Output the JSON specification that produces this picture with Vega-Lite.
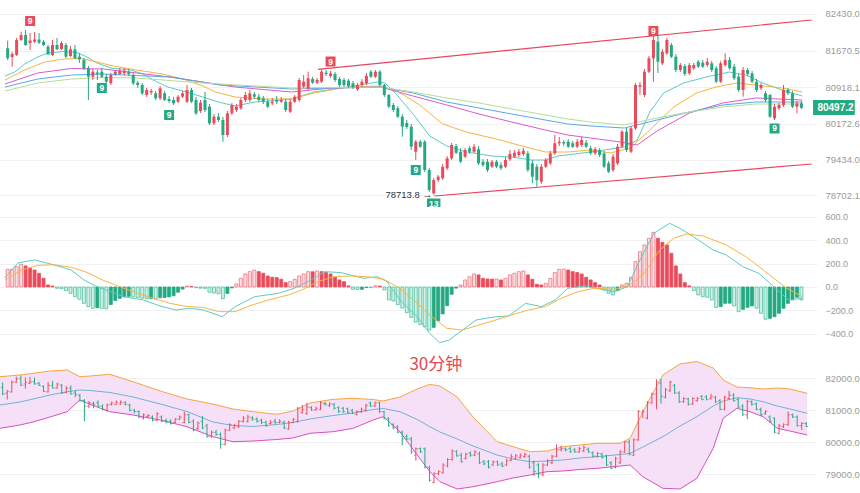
{
"$schema":"https://vega.github.io/schema/vega-lite/v6.json",
"padding":0,
"background":"white",
"config":{"view":{"stroke":null},"axis":{"domain":false,"ticks":false,"labelColor":"#9a9a9a","labelFontSize":9.5,"labelFont":"Liberation Sans","labelPadding":8,"labelOverlap":false,"labelSeparation":0,"gridColor":"#f1f1f1","gridWidth":1}},
"resolve":{"scale":{"color":"independent","fill":"independent","stroke":"independent","shape":"independent"}},
"datasets":{
"k":[
{"i":0,"o":81718,"h":81874,"l":81478,"c":81513},{"i":1,"o":81540,"h":81642,"l":81341,"c":81601},{"i":2,"o":81580,"h":81929,"l":81560,"c":81888},{"i":3,"o":81888,"h":82058,"l":81868,"c":81990},{"i":4,"o":81990,"h":82093,"l":81765,"c":81785},{"i":5,"o":81827,"h":82032,"l":81683,"c":81878},{"i":6,"o":81853,"h":82052,"l":81827,"c":81898},{"i":7,"o":81898,"h":82032,"l":81806,"c":81833},{"i":8,"o":81853,"h":81888,"l":81765,"c":81785},{"i":9,"o":81751,"h":81785,"l":81580,"c":81595},
{"i":10,"o":81580,"h":81888,"l":81560,"c":81785},{"i":11,"o":81785,"h":81929,"l":81683,"c":81697},{"i":12,"o":81704,"h":81868,"l":81683,"c":81827},{"i":13,"o":81785,"h":81827,"l":81519,"c":81546},{"i":14,"o":81560,"h":81765,"l":81540,"c":81697},{"i":15,"o":81697,"h":81785,"l":81498,"c":81513},{"i":16,"o":81546,"h":81622,"l":81416,"c":81492},{"i":17,"o":81478,"h":81519,"l":81273,"c":81308},{"i":18,"o":81308,"h":81355,"l":80658,"c":81136},{"i":19,"o":81136,"h":81294,"l":81068,"c":81238},
{"i":20,"o":81222,"h":81273,"l":81068,"c":81191},{"i":21,"o":81238,"h":81314,"l":81109,"c":81136},{"i":22,"o":81136,"h":81191,"l":81007,"c":81033},{"i":23,"o":81000,"h":81212,"l":80965,"c":81170},{"i":24,"o":81191,"h":81273,"l":81150,"c":81238},{"i":25,"o":81191,"h":81314,"l":81170,"c":81259},{"i":26,"o":81205,"h":81314,"l":81170,"c":81259},{"i":27,"o":81238,"h":81294,"l":81150,"c":81191},{"i":28,"o":81170,"h":81212,"l":80965,"c":81000},{"i":29,"o":81013,"h":81048,"l":80904,"c":80965},
{"i":30,"o":80965,"h":81007,"l":80760,"c":80795},{"i":31,"o":80760,"h":80904,"l":80720,"c":80863},{"i":32,"o":80812,"h":80884,"l":80760,"c":80843},{"i":33,"o":80795,"h":80843,"l":80658,"c":80693},{"i":34,"o":80693,"h":80945,"l":80658,"c":80898},{"i":35,"o":80795,"h":80843,"l":80638,"c":80658},{"i":36,"o":80679,"h":80740,"l":80597,"c":80638},{"i":37,"o":80658,"h":80720,"l":80555,"c":80590},{"i":38,"o":80623,"h":80760,"l":80597,"c":80726},{"i":39,"o":80726,"h":80843,"l":80699,"c":80795},
{"i":40,"o":80623,"h":80965,"l":80597,"c":80863},{"i":41,"o":80863,"h":80904,"l":80597,"c":80623},{"i":42,"o":80658,"h":80720,"l":80350,"c":80385},{"i":43,"o":80432,"h":80658,"l":80392,"c":80603},{"i":44,"o":80658,"h":80822,"l":80412,"c":80453},{"i":45,"o":80521,"h":80576,"l":80145,"c":80180},{"i":46,"o":80180,"h":80371,"l":80145,"c":80316},{"i":47,"o":80316,"h":80392,"l":80207,"c":80248},{"i":48,"o":80248,"h":80310,"l":79803,"c":79940},{"i":49,"o":79940,"h":80432,"l":79900,"c":80385},
{"i":50,"o":80385,"h":80597,"l":80350,"c":80555},{"i":51,"o":80453,"h":80576,"l":80412,"c":80521},{"i":52,"o":80488,"h":80699,"l":80453,"c":80658},{"i":53,"o":80658,"h":80822,"l":80617,"c":80760},{"i":54,"o":80658,"h":80863,"l":80617,"c":80795},{"i":55,"o":80775,"h":80822,"l":80679,"c":80726},{"i":56,"o":80726,"h":80781,"l":80617,"c":80658},{"i":57,"o":80693,"h":80740,"l":80576,"c":80623},{"i":58,"o":80623,"h":80679,"l":80494,"c":80521},{"i":59,"o":80590,"h":80699,"l":80555,"c":80623},
{"i":60,"o":80658,"h":80740,"l":80576,"c":80623},{"i":61,"o":80623,"h":80720,"l":80597,"c":80658},{"i":62,"o":80623,"h":80679,"l":80412,"c":80453},{"i":63,"o":80418,"h":80679,"l":80392,"c":80623},{"i":64,"o":80623,"h":80760,"l":80597,"c":80726},{"i":65,"o":80658,"h":81109,"l":80617,"c":81068},{"i":66,"o":80931,"h":81170,"l":80904,"c":81033},{"i":67,"o":80898,"h":81238,"l":80863,"c":81103},{"i":68,"o":81088,"h":81130,"l":80986,"c":81013},{"i":69,"o":81013,"h":81109,"l":80986,"c":81068},
{"i":70,"o":81033,"h":81287,"l":81007,"c":81238},{"i":71,"o":81218,"h":81273,"l":81150,"c":81191},{"i":72,"o":81150,"h":81253,"l":81109,"c":81205},{"i":73,"o":81191,"h":81232,"l":81027,"c":81068},{"i":74,"o":81088,"h":81130,"l":80924,"c":80965},{"i":75,"o":81068,"h":81109,"l":80924,"c":80965},{"i":76,"o":81054,"h":81088,"l":80904,"c":80945},{"i":77,"o":81000,"h":81048,"l":80884,"c":80918},{"i":78,"o":80877,"h":81007,"l":80843,"c":80965},{"i":79,"o":80965,"h":81088,"l":80924,"c":81033},
{"i":80,"o":81000,"h":81212,"l":80965,"c":81150},{"i":81,"o":81238,"h":81273,"l":81109,"c":81136},{"i":82,"o":81136,"h":81273,"l":81109,"c":81238},{"i":83,"o":81238,"h":81273,"l":80924,"c":80965},{"i":84,"o":80965,"h":80986,"l":80720,"c":80760},{"i":85,"o":80760,"h":80781,"l":80494,"c":80521},{"i":86,"o":80555,"h":80597,"l":80412,"c":80453},{"i":87,"o":80488,"h":80535,"l":80289,"c":80316},{"i":88,"o":80316,"h":80371,"l":79906,"c":80111},{"i":89,"o":80187,"h":80248,"l":80064,"c":80104},
{"i":90,"o":80111,"h":80166,"l":79633,"c":79701},{"i":91,"o":79598,"h":79838,"l":79428,"c":79803},{"i":92,"o":79803,"h":79838,"l":79674,"c":79701},{"i":93,"o":79803,"h":79838,"l":79182,"c":79223},{"i":94,"o":79223,"h":79264,"l":78772,"c":78813},{"i":95,"o":78745,"h":79059,"l":78713.8,"c":79018},{"i":96,"o":79018,"h":79120,"l":78977,"c":79086},{"i":97,"o":79053,"h":79346,"l":79018,"c":79291},{"i":98,"o":79258,"h":79510,"l":79223,"c":79463},{"i":99,"o":79463,"h":79777,"l":79428,"c":79735},
{"i":100,"o":79715,"h":79756,"l":79551,"c":79578},{"i":101,"o":79598,"h":79674,"l":79366,"c":79393},{"i":102,"o":79496,"h":79674,"l":79469,"c":79633},{"i":103,"o":79668,"h":79715,"l":79551,"c":79598},{"i":104,"o":79598,"h":79756,"l":79572,"c":79701},{"i":105,"o":79647,"h":79715,"l":79325,"c":79360},{"i":106,"o":79393,"h":79448,"l":79285,"c":79325},{"i":107,"o":79393,"h":79448,"l":79182,"c":79223},{"i":108,"o":79291,"h":79428,"l":79264,"c":79393},{"i":109,"o":79393,"h":79428,"l":79264,"c":79291},
{"i":110,"o":79325,"h":79387,"l":79223,"c":79258},{"i":111,"o":79291,"h":79490,"l":79264,"c":79428},{"i":112,"o":79442,"h":79633,"l":79408,"c":79551},{"i":113,"o":79496,"h":79633,"l":79469,"c":79578},{"i":114,"o":79530,"h":79654,"l":79490,"c":79598},{"i":115,"o":79551,"h":79674,"l":79510,"c":79619},{"i":116,"o":79565,"h":79613,"l":79182,"c":79223},{"i":117,"o":79360,"h":79428,"l":78950,"c":79086},{"i":118,"o":79291,"h":79346,"l":78881,"c":79018},{"i":119,"o":78983,"h":79346,"l":78936,"c":79291},
{"i":120,"o":79291,"h":79469,"l":79264,"c":79428},{"i":121,"o":79360,"h":79613,"l":79325,"c":79565},{"i":122,"o":79565,"h":79940,"l":79530,"c":79770},{"i":123,"o":79770,"h":79900,"l":79715,"c":79803},{"i":124,"o":79797,"h":79838,"l":79715,"c":79766},{"i":125,"o":79803,"h":79858,"l":79674,"c":79701},{"i":126,"o":79770,"h":79818,"l":79674,"c":79701},{"i":127,"o":79701,"h":79858,"l":79674,"c":79803},{"i":128,"o":79735,"h":79900,"l":79694,"c":79838},{"i":129,"o":79783,"h":79838,"l":79674,"c":79701},
{"i":130,"o":79668,"h":79715,"l":79530,"c":79565},{"i":131,"o":79565,"h":79694,"l":79530,"c":79654},{"i":132,"o":79633,"h":79674,"l":79490,"c":79530},{"i":133,"o":79565,"h":79613,"l":79264,"c":79291},{"i":134,"o":79360,"h":79408,"l":79162,"c":79188},{"i":135,"o":79223,"h":79551,"l":79182,"c":79496},{"i":136,"o":79360,"h":79756,"l":79325,"c":79701},{"i":137,"o":79701,"h":80043,"l":79674,"c":80008},{"i":138,"o":80008,"h":80084,"l":79592,"c":79633},{"i":139,"o":79598,"h":80125,"l":79572,"c":80078},
{"i":140,"o":80078,"h":81007,"l":80043,"c":80965},{"i":141,"o":80931,"h":81027,"l":80760,"c":80965},{"i":142,"o":80760,"h":81294,"l":80720,"c":81238},{"i":143,"o":81238,"h":81560,"l":81212,"c":81513},{"i":144,"o":81513,"h":81970,"l":81033,"c":81888},{"i":145,"o":81853,"h":81990,"l":81212,"c":81443},{"i":146,"o":81410,"h":81704,"l":81375,"c":81648},{"i":147,"o":81615,"h":81929,"l":81580,"c":81888},{"i":148,"o":81785,"h":81827,"l":81519,"c":81546},{"i":149,"o":81546,"h":81601,"l":81232,"c":81273},
{"i":150,"o":81273,"h":81416,"l":81232,"c":81375},{"i":151,"o":81355,"h":81396,"l":81150,"c":81191},{"i":152,"o":81205,"h":81416,"l":81170,"c":81375},{"i":153,"o":81308,"h":81416,"l":81273,"c":81375},{"i":154,"o":81443,"h":81478,"l":81314,"c":81341},{"i":155,"o":81423,"h":81478,"l":81314,"c":81341},{"i":156,"o":81375,"h":81519,"l":81335,"c":81443},{"i":157,"o":81410,"h":81458,"l":81232,"c":81273},{"i":158,"o":81308,"h":81355,"l":81007,"c":81033},{"i":159,"o":81033,"h":81458,"l":81007,"c":81410},
{"i":160,"o":81375,"h":81615,"l":81335,"c":81478},{"i":161,"o":81478,"h":81540,"l":81273,"c":81308},{"i":162,"o":81341,"h":81396,"l":81068,"c":81103},{"i":163,"o":81136,"h":81191,"l":80822,"c":80863},{"i":164,"o":80863,"h":81335,"l":80726,"c":81273},{"i":165,"o":81273,"h":81314,"l":81150,"c":81191},{"i":166,"o":81205,"h":81253,"l":81007,"c":81033},{"i":167,"o":81033,"h":81088,"l":80822,"c":80863},{"i":168,"o":80898,"h":81007,"l":80863,"c":80965},{"i":169,"o":80795,"h":80843,"l":80617,"c":80658},
{"i":170,"o":80760,"h":80782,"l":80289,"c":80316},{"i":171,"o":80283,"h":80576,"l":80248,"c":80521},{"i":172,"o":80488,"h":80597,"l":80453,"c":80555},{"i":173,"o":80555,"h":80965,"l":80515,"c":80863},{"i":174,"o":80863,"h":80904,"l":80760,"c":80795},{"i":175,"o":80795,"h":80843,"l":80494,"c":80521},{"i":176,"o":80521,"h":80638,"l":80385,"c":80590},{"i":177,"o":80590,"h":80638,"l":80474,"c":80497.2}
],
"ma":[
{"s":"c","i":-0.6,"v":81150},{"s":"c","i":1.6,"v":81232},{"s":"c","i":3.8,"v":81396},{"s":"c","i":6.7,"v":81540},{"s":"c","i":8.9,"v":81622},{"s":"c","i":12.6,"v":81652},{"s":"c","i":15.5,"v":81632},{"s":"c","i":17.7,"v":81540},{"s":"c","i":19.9,"v":81417},{"s":"c","i":23,"v":81314},{"s":"c","i":27.4,"v":81273},{"s":"c","i":30.2,"v":81191},{"s":"c","i":32.4,"v":81068},{"s":"c","i":35.7,"v":80924},{"s":"c","i":39.1,"v":80842},{"s":"c","i":43.5,"v":80720},{"s":"c","i":47,"v":80617},{"s":"c","i":50.7,"v":80535},{"s":"c","i":55.1,"v":80617},{"s":"c","i":58.2,"v":80638},{"s":"c","i":63.3,"v":80679},{"s":"c","i":68.3,"v":80822},{"s":"c","i":75.8,"v":80924},{"s":"c","i":82.4,"v":81027},{"s":"c","i":84.2,"v":81006},{"s":"c","i":86.8,"v":80760},{"s":"c","i":90.4,"v":80371},{"s":"c","i":94.1,"v":79920},{"s":"c","i":97.9,"v":79715},{"s":"c","i":102.3,"v":79592},{"s":"c","i":108,"v":79510},{"s":"c","i":112.4,"v":79490},{"s":"c","i":116.8,"v":79428},{"s":"c","i":119.9,"v":79428},{"s":"c","i":122.7,"v":79510},{"s":"c","i":130,"v":79592},{"s":"c","i":137.5,"v":79694},{"s":"c","i":140.4,"v":79838},{"s":"c","i":143.2,"v":80412},{"s":"c","i":146.3,"v":80802},{"s":"c","i":150.7,"v":81006},{"s":"c","i":155.8,"v":81130},{"s":"c","i":160.9,"v":81232},{"s":"c","i":164.6,"v":81170},{"s":"c","i":168.4,"v":81006},{"s":"c","i":172.7,"v":80863},{"s":"c","i":177.2,"v":80740},
{"s":"o","i":-0.6,"v":81068},{"s":"o","i":3.8,"v":81273},{"s":"o","i":8.2,"v":81437},{"s":"o","i":12.6,"v":81499},{"s":"o","i":16.4,"v":81509},{"s":"o","i":19.9,"v":81437},{"s":"o","i":23.6,"v":81355},{"s":"o","i":28.7,"v":81273},{"s":"o","i":34.6,"v":81191},{"s":"o","i":39.1,"v":81088},{"s":"o","i":43.5,"v":80945},{"s":"o","i":46.3,"v":80822},{"s":"o","i":50.7,"v":80720},{"s":"o","i":56.7,"v":80679},{"s":"o","i":63.3,"v":80679},{"s":"o","i":68.3,"v":80802},{"s":"o","i":75.8,"v":80924},{"s":"o","i":83.1,"v":80945},{"s":"o","i":86.8,"v":80842},{"s":"o","i":91.9,"v":80556},{"s":"o","i":97,"v":80166},{"s":"o","i":102.3,"v":80002},{"s":"o","i":108.9,"v":79859},{"s":"o","i":115.5,"v":79695},{"s":"o","i":119.9,"v":79592},{"s":"o","i":124.9,"v":79592},{"s":"o","i":130,"v":79633},{"s":"o","i":134.4,"v":79572},{"s":"o","i":138.8,"v":79674},{"s":"o","i":143.2,"v":80043},{"s":"o","i":148.5,"v":80514},{"s":"o","i":153.6,"v":80802},{"s":"o","i":158,"v":80925},{"s":"o","i":162.4,"v":81006},{"s":"o","i":166.8,"v":80966},{"s":"o","i":172.7,"v":80904},{"s":"o","i":177.2,"v":80822},
{"s":"m","i":-0.6,"v":80986},{"s":"m","i":6.7,"v":81212},{"s":"m","i":14.2,"v":81304},{"s":"m","i":21.4,"v":81294},{"s":"m","i":28.7,"v":81212},{"s":"m","i":36.2,"v":81130},{"s":"m","i":43.5,"v":81027},{"s":"m","i":50.7,"v":80924},{"s":"m","i":63.3,"v":80822},{"s":"m","i":72.1,"v":80904},{"s":"m","i":83.1,"v":80924},{"s":"m","i":90.4,"v":80740},{"s":"m","i":97.9,"v":80556},{"s":"m","i":105.1,"v":80371},{"s":"m","i":112.4,"v":80207},{"s":"m","i":119.9,"v":80043},{"s":"m","i":124.9,"v":79940},{"s":"m","i":130,"v":79879},{"s":"m","i":136.6,"v":79797},{"s":"m","i":140.4,"v":79736},{"s":"m","i":144.8,"v":80022},{"s":"m","i":152,"v":80392},{"s":"m","i":159.5,"v":80597},{"s":"m","i":166.8,"v":80699},{"s":"m","i":177.2,"v":80658},
{"s":"b","i":-0.6,"v":80924},{"s":"b","i":6.7,"v":81088},{"s":"b","i":14.2,"v":81170},{"s":"b","i":21.4,"v":81191},{"s":"b","i":28.7,"v":81160},{"s":"b","i":36.2,"v":81130},{"s":"b","i":47.2,"v":80966},{"s":"b","i":63.3,"v":80884},{"s":"b","i":83.1,"v":80924},{"s":"b","i":90.4,"v":80802},{"s":"b","i":97.9,"v":80617},{"s":"b","i":105.1,"v":80494},{"s":"b","i":112.4,"v":80371},{"s":"b","i":124.9,"v":80166},{"s":"b","i":130,"v":80125},{"s":"b","i":137.5,"v":80084},{"s":"b","i":144.8,"v":80248},{"s":"b","i":152,"v":80412},{"s":"b","i":159.5,"v":80556},{"s":"b","i":166.8,"v":80617},{"s":"b","i":177.2,"v":80617},
{"s":"g","i":-0.6,"v":80842},{"s":"g","i":6.7,"v":81006},{"s":"g","i":14.2,"v":81088},{"s":"g","i":21.4,"v":81119},{"s":"g","i":28.7,"v":81109},{"s":"g","i":43.5,"v":81006},{"s":"g","i":63.3,"v":80904},{"s":"g","i":83.1,"v":80924},{"s":"g","i":90.4,"v":80822},{"s":"g","i":97.9,"v":80699},{"s":"g","i":105.1,"v":80597},{"s":"g","i":112.4,"v":80474},{"s":"g","i":124.9,"v":80269},{"s":"g","i":130,"v":80207},{"s":"g","i":137.5,"v":80146},{"s":"g","i":144.8,"v":80289},{"s":"g","i":152,"v":80412},{"s":"g","i":159.5,"v":80515},{"s":"g","i":166.8,"v":80576},{"s":"g","i":177.2,"v":80576}
],
"chan":[{"n":"u","i":69.2,"v":81287},{"n":"u","i":179.3,"v":82298},{"n":"d","i":95.2,"v":78690},{"n":"d","i":179.3,"v":79346}],
"tags":[{"i":5,"v":82277,"t":"9","side":"top"},{"i":72,"v":81447,"t":"9","side":"top"},{"i":144,"v":82072,"t":"9","side":"top"},{"i":21,"v":80904,"t":"9","side":"bot"},{"i":36,"v":80350,"t":"9","side":"bot"},{"i":91,"v":79223,"t":"9","side":"bot"},{"i":95,"v":78536,"t":"13","side":"bot"},{"i":171,"v":80074,"t":"9","side":"bot"}],
"lowlab":[{"i":94.6,"v":78713.8,"t":"78713.8 →"}],
"pt":[{"a":179.6,"b":188.9,"y1":80658,"y2":80350,"m":184.6,"v":80500,"t":"80497.2"}],
"macd":[
{"i":0,"v":151,"g":"pg"},{"i":1,"v":151,"g":"pg"},{"i":2,"v":174,"g":"pg"},{"i":3,"v":194,"g":"pg"},{"i":4,"v":180,"g":"ps"},{"i":5,"v":160,"g":"ps"},{"i":6,"v":145,"g":"ps"},{"i":7,"v":117,"g":"ps"},{"i":8,"v":74,"g":"ps"},{"i":9,"v":17,"g":"ps"},
{"i":10,"v":8,"g":"ps"},{"i":11,"v":-11,"g":"ng"},{"i":12,"v":-15,"g":"ng"},{"i":13,"v":-31,"g":"ng"},{"i":14,"v":-54,"g":"ng"},{"i":15,"v":-83,"g":"ng"},{"i":16,"v":-105,"g":"ng"},{"i":17,"v":-140,"g":"ng"},{"i":18,"v":-168,"g":"ng"},{"i":19,"v":-182,"g":"ng"},
{"i":20,"v":-178,"g":"ns"},{"i":21,"v":-183,"g":"ng"},{"i":22,"v":-186,"g":"ng"},{"i":23,"v":-150,"g":"ns"},{"i":24,"v":-115,"g":"ns"},{"i":25,"v":-97,"g":"ns"},{"i":26,"v":-85,"g":"ns"},{"i":27,"v":-80,"g":"ns"},{"i":28,"v":-85,"g":"ng"},{"i":29,"v":-90,"g":"ng"},
{"i":30,"v":-96,"g":"ng"},{"i":31,"v":-102,"g":"ng"},{"i":32,"v":-100,"g":"ns"},{"i":33,"v":-104,"g":"ng"},{"i":34,"v":-92,"g":"ns"},{"i":35,"v":-90,"g":"ns"},{"i":36,"v":-85,"g":"ns"},{"i":37,"v":-75,"g":"ns"},{"i":38,"v":-45,"g":"ns"},{"i":39,"v":-18,"g":"ns"},
{"i":40,"v":8,"g":"pg"},{"i":41,"v":5,"g":"ps"},{"i":42,"v":-6,"g":"ng"},{"i":43,"v":-10,"g":"ng"},{"i":44,"v":-12,"g":"ng"},{"i":45,"v":-45,"g":"ng"},{"i":46,"v":-52,"g":"ng"},{"i":47,"v":-58,"g":"ng"},{"i":48,"v":-100,"g":"ng"},{"i":49,"v":-55,"g":"ns"},
{"i":50,"v":-8,"g":"ns"},{"i":51,"v":26,"g":"pg"},{"i":52,"v":74,"g":"pg"},{"i":53,"v":111,"g":"pg"},{"i":54,"v":131,"g":"pg"},{"i":55,"v":145,"g":"pg"},{"i":56,"v":131,"g":"ps"},{"i":57,"v":117,"g":"ps"},{"i":58,"v":94,"g":"ps"},{"i":59,"v":83,"g":"ps"},
{"i":60,"v":80,"g":"ps"},{"i":61,"v":66,"g":"ps"},{"i":62,"v":37,"g":"ps"},{"i":63,"v":46,"g":"pg"},{"i":64,"v":66,"g":"pg"},{"i":65,"v":94,"g":"pg"},{"i":66,"v":111,"g":"pg"},{"i":67,"v":131,"g":"pg"},{"i":68,"v":130,"g":"ps"},{"i":69,"v":137,"g":"pg"},
{"i":70,"v":131,"g":"ps"},{"i":71,"v":123,"g":"ps"},{"i":72,"v":111,"g":"ps"},{"i":73,"v":83,"g":"ps"},{"i":74,"v":60,"g":"ps"},{"i":75,"v":46,"g":"ps"},{"i":76,"v":9,"g":"ps"},{"i":77,"v":-20,"g":"ng"},{"i":78,"v":-21,"g":"ng"},{"i":79,"v":-20,"g":"ns"},
{"i":80,"v":-5,"g":"ns"},{"i":81,"v":-6,"g":"ng"},{"i":82,"v":10,"g":"pg"},{"i":83,"v":8,"g":"ps"},{"i":84,"v":-25,"g":"ng"},{"i":85,"v":-110,"g":"ng"},{"i":86,"v":-120,"g":"ng"},{"i":87,"v":-150,"g":"ng"},{"i":88,"v":-180,"g":"ng"},{"i":89,"v":-220,"g":"ng"},
{"i":90,"v":-260,"g":"ng"},{"i":91,"v":-300,"g":"ng"},{"i":92,"v":-320,"g":"ng"},{"i":93,"v":-340,"g":"ng"},{"i":94,"v":-368,"g":"ng"},{"i":95,"v":-345,"g":"ns"},{"i":96,"v":-290,"g":"ns"},{"i":97,"v":-230,"g":"ns"},{"i":98,"v":-160,"g":"ns"},{"i":99,"v":-63,"g":"ns"},
{"i":100,"v":-10,"g":"ns"},{"i":101,"v":17,"g":"pg"},{"i":102,"v":60,"g":"pg"},{"i":103,"v":88,"g":"pg"},{"i":104,"v":111,"g":"pg"},{"i":105,"v":103,"g":"ps"},{"i":106,"v":74,"g":"ps"},{"i":107,"v":68,"g":"ps"},{"i":108,"v":67,"g":"ps"},{"i":109,"v":68,"g":"pg"},
{"i":110,"v":60,"g":"ps"},{"i":111,"v":74,"g":"pg"},{"i":112,"v":103,"g":"pg"},{"i":113,"v":117,"g":"pg"},{"i":114,"v":131,"g":"pg"},{"i":115,"v":137,"g":"pg"},{"i":116,"v":103,"g":"ps"},{"i":117,"v":66,"g":"ps"},{"i":118,"v":23,"g":"ps"},{"i":119,"v":17,"g":"ps"},
{"i":120,"v":31,"g":"pg"},{"i":121,"v":74,"g":"pg"},{"i":122,"v":123,"g":"pg"},{"i":123,"v":151,"g":"pg"},{"i":124,"v":152,"g":"pg"},{"i":125,"v":145,"g":"ps"},{"i":126,"v":131,"g":"ps"},{"i":127,"v":123,"g":"ps"},{"i":128,"v":111,"g":"ps"},{"i":129,"v":83,"g":"ps"},
{"i":130,"v":60,"g":"ps"},{"i":131,"v":37,"g":"ps"},{"i":132,"v":17,"g":"ps"},{"i":133,"v":-26,"g":"ng"},{"i":134,"v":-54,"g":"ng"},{"i":135,"v":-68,"g":"ng"},{"i":136,"v":-31,"g":"ns"},{"i":137,"v":17,"g":"pg"},{"i":138,"v":31,"g":"pg"},{"i":139,"v":83,"g":"pg"},
{"i":140,"v":217,"g":"pg"},{"i":141,"v":302,"g":"pg"},{"i":142,"v":359,"g":"pg"},{"i":143,"v":416,"g":"pg"},{"i":144,"v":467,"g":"pg"},{"i":145,"v":416,"g":"ps"},{"i":146,"v":382,"g":"ps"},{"i":147,"v":359,"g":"ps"},{"i":148,"v":288,"g":"ps"},{"i":149,"v":180,"g":"ps"},
{"i":150,"v":111,"g":"ps"},{"i":151,"v":37,"g":"ps"},{"i":152,"v":9,"g":"ps"},{"i":153,"v":-31,"g":"ng"},{"i":154,"v":-68,"g":"ng"},{"i":155,"v":-83,"g":"ng"},{"i":156,"v":-88,"g":"ng"},{"i":157,"v":-111,"g":"ng"},{"i":158,"v":-174,"g":"ng"},{"i":159,"v":-168,"g":"ns"},
{"i":160,"v":-140,"g":"ns"},{"i":161,"v":-139,"g":"ns"},{"i":162,"v":-162,"g":"ng"},{"i":163,"v":-211,"g":"ng"},{"i":164,"v":-191,"g":"ns"},{"i":165,"v":-174,"g":"ns"},{"i":166,"v":-162,"g":"ns"},{"i":167,"v":-182,"g":"ng"},{"i":168,"v":-225,"g":"ng"},{"i":169,"v":-276,"g":"ng"},
{"i":170,"v":-268,"g":"ns"},{"i":171,"v":-254,"g":"ns"},{"i":172,"v":-225,"g":"ns"},{"i":173,"v":-182,"g":"ns"},{"i":174,"v":-140,"g":"ns"},{"i":175,"v":-111,"g":"ns"},{"i":176,"v":-88,"g":"ns"},{"i":177,"v":-111,"g":"ng"}
],
"ml":[
{"s":"d","i":-0.6,"v":80},{"s":"d","i":2.3,"v":205},{"s":"d","i":6,"v":231},{"s":"d","i":10.4,"v":188},{"s":"d","i":14.2,"v":145},{"s":"d","i":17,"v":60},{"s":"d","i":19.9,"v":3},{"s":"d","i":23,"v":-40},{"s":"d","i":25.8,"v":-83},{"s":"d","i":30.2,"v":-111},{"s":"d","i":34,"v":-162},{"s":"d","i":37.5,"v":-197},{"s":"d","i":40.6,"v":-182},{"s":"d","i":43.5,"v":-195},{"s":"d","i":47.9,"v":-254},{"s":"d","i":50.7,"v":-168},{"s":"d","i":55.1,"v":-83},{"s":"d","i":60.4,"v":-54},{"s":"d","i":63.9,"v":-11},{"s":"d","i":67.7,"v":60},{"s":"d","i":70.6,"v":131},{"s":"d","i":74.3,"v":123},{"s":"d","i":79.4,"v":74},{"s":"d","i":82.4,"v":88},{"s":"d","i":84.6,"v":46},{"s":"d","i":87.5,"v":-111},{"s":"d","i":91.3,"v":-254},{"s":"d","i":94.1,"v":-396},{"s":"d","i":96.3,"v":-476},{"s":"d","i":98.5,"v":-453},{"s":"d","i":101.4,"v":-368},{"s":"d","i":104.5,"v":-282},{"s":"d","i":108.9,"v":-254},{"s":"d","i":111.7,"v":-248},{"s":"d","i":115.5,"v":-140},{"s":"d","i":119,"v":-168},{"s":"d","i":122.1,"v":-111},{"s":"d","i":124.9,"v":-11},{"s":"d","i":128.7,"v":9},{"s":"d","i":133.1,"v":-26},{"s":"d","i":135.3,"v":-40},{"s":"d","i":138.2,"v":3},{"s":"d","i":141,"v":231},{"s":"d","i":144.1,"v":459},{"s":"d","i":147.6,"v":544},{"s":"d","i":149.9,"v":502},{"s":"d","i":152.9,"v":430},{"s":"d","i":157.3,"v":316},{"s":"d","i":160.2,"v":274},{"s":"d","i":163.9,"v":174},{"s":"d","i":167.5,"v":117},{"s":"d","i":171.2,"v":-11},{"s":"d","i":174.1,"v":-111},{"s":"d","i":177.2,"v":-97},
{"s":"e","i":-0.6,"v":60},{"s":"e","i":3.1,"v":145},{"s":"e","i":6.7,"v":185},{"s":"e","i":10.4,"v":190},{"s":"e","i":14.2,"v":168},{"s":"e","i":17.7,"v":125},{"s":"e","i":21.4,"v":55},{"s":"e","i":25.2,"v":0},{"s":"e","i":30.2,"v":-70},{"s":"e","i":36.2,"v":-140},{"s":"e","i":39.7,"v":-165},{"s":"e","i":43.5,"v":-175},{"s":"e","i":47.2,"v":-211},{"s":"e","i":50.7,"v":-211},{"s":"e","i":54.5,"v":-154},{"s":"e","i":58.2,"v":-111},{"s":"e","i":62.6,"v":-68},{"s":"e","i":65.5,"v":-26},{"s":"e","i":69.2,"v":46},{"s":"e","i":72.8,"v":88},{"s":"e","i":76.5,"v":94},{"s":"e","i":80.2,"v":88},{"s":"e","i":83.8,"v":66},{"s":"e","i":87.5,"v":-11},{"s":"e","i":91.3,"v":-140},{"s":"e","i":94.1,"v":-239},{"s":"e","i":97.9,"v":-353},{"s":"e","i":101.4,"v":-368},{"s":"e","i":105.1,"v":-325},{"s":"e","i":108.9,"v":-282},{"s":"e","i":112.4,"v":-239},{"s":"e","i":116.1,"v":-197},{"s":"e","i":119.9,"v":-168},{"s":"e","i":123.4,"v":-97},{"s":"e","i":127.2,"v":-40},{"s":"e","i":130.9,"v":-11},{"s":"e","i":135.3,"v":-20},{"s":"e","i":138.8,"v":17},{"s":"e","i":141.9,"v":117},{"s":"e","i":145.4,"v":316},{"s":"e","i":148.5,"v":416},{"s":"e","i":151.4,"v":453},{"s":"e","i":155.1,"v":436},{"s":"e","i":160.2,"v":359},{"s":"e","i":164.6,"v":259},{"s":"e","i":169,"v":131},{"s":"e","i":173.4,"v":-3},{"s":"e","i":177.2,"v":-83}
],
"boll":[
{"i":-0.59,"u":82056,"m":81170,"lo":80440},{"i":3.8,"u":82110,"m":81264,"lo":80544},{"i":6.7,"u":82163,"m":81358,"lo":80638},{"i":10.4,"u":82235,"m":81483,"lo":80794},{"i":14.2,"u":82266,"m":81587,"lo":80960},{"i":17,"u":82056,"m":81640,"lo":81327},{"i":19.2,"u":82078,"m":81624,"lo":81192},{"i":23.6,"u":82132,"m":81562,"lo":80960},{"i":28.7,"u":81900,"m":81421,"lo":80857},{"i":34.7,"u":81608,"m":81201,"lo":80700},{"i":40.6,"u":81358,"m":80966,"lo":80490},{"i":46.3,"u":81201,"m":80638,"lo":80177},{"i":50.7,"u":81045,"m":80528,"lo":80021},{"i":55.1,"u":80960,"m":80497,"lo":80042},{"i":60.4,"u":80879,"m":80559,"lo":80089},{"i":63.9,"u":80982,"m":80622,"lo":80136},{"i":67.7,"u":81233,"m":80732,"lo":80284},{"i":72.8,"u":81349,"m":80841,"lo":80334},{"i":77.2,"u":81380,"m":80919,"lo":80440},{"i":81.6,"u":81342,"m":81029,"lo":80700},{"i":83.8,"u":81295,"m":81060,"lo":80804},{"i":87.5,"u":81421,"m":80960,"lo":80334},{"i":91.3,"u":81671,"m":80716,"lo":79604},{"i":94.1,"u":81818,"m":80490,"lo":79081},{"i":96.3,"u":81765,"m":80324,"lo":78768},{"i":100.1,"u":81421,"m":80105,"lo":78539},{"i":103.6,"u":80794,"m":79886,"lo":78611},{"i":108.9,"u":80021,"m":79604,"lo":78768},{"i":112.4,"u":79864,"m":79479,"lo":78884},{"i":116.2,"u":79707,"m":79394,"lo":78978},{"i":119.9,"u":79729,"m":79416,"lo":79081},{"i":123.4,"u":79864,"m":79447,"lo":79103},{"i":127.2,"u":79917,"m":79510,"lo":79150},{"i":130.9,"u":79970,"m":79551,"lo":79187},{"i":136,"u":79970,"m":79620,"lo":79259},{"i":138.2,"u":80127,"m":79657,"lo":79291},{"i":141,"u":80960,"m":79855,"lo":78924},{"i":145.4,"u":82110,"m":80177,"lo":78561},{"i":149.2,"u":82454,"m":80512,"lo":78539},{"i":152.9,"u":82532,"m":80804,"lo":78874},{"i":156.5,"u":82329,"m":81139,"lo":79814},{"i":158.7,"u":81953,"m":81295,"lo":80753},{"i":161.7,"u":81734,"m":81399,"lo":81067},{"i":164.6,"u":81712,"m":81358,"lo":80960},{"i":167.5,"u":81671,"m":81273,"lo":80804},{"i":170.6,"u":81702,"m":81139,"lo":80440},{"i":173.4,"u":81671,"m":81045,"lo":80356},{"i":177.2,"u":81536,"m":80910,"lo":80230}
],
"cap":[{"i":95.4,"v":82423,"t":"30分钟"}]
},
"spacing":3,
"bounds":"flush",
"vconcat":[
{"width":817,"height":207,
"layer":[
{"data":{"name":"ma"},"mark":{"type":"line","strokeWidth":1,"clip":true},
"encoding":{"x":{"field":"i","type":"quantitative","scale":{"domain":[-0.595,179.36],"nice":false,"zero":false},"axis":null},
"y":{"field":"v","type":"quantitative","scale":{"domain":[78464.5,82708],"nice":false,"zero":false},"axis":{"orient":"right","values":[82430,81670.5,80918.1,80172.6,79434,78702.1],"format":".1f","grid":true,"labelOverlap":false,"title":null}},
"color":{"field":"s","type":"nominal","scale":{"domain":["c","o","m","b","g"],"range":["#5ccbc6","#f5b640","#e058cb","#5aa8e6","#b4df96"]},"legend":null}}},
{"data":{"name":"k"},"mark":{"type":"rule","strokeWidth":1},
"encoding":{"x":{"field":"i","type":"quantitative","scale":{"domain":[-0.595,179.36],"nice":false,"zero":false},"axis":null},
"y":{"field":"h","type":"quantitative","scale":{"domain":[78464.5,82708],"nice":false,"zero":false}},"y2":{"field":"l"},
"color":{"condition":{"test":"datum.c >= datum.o","value":"#ea4b5a"},"value":"#24a983"}}},
{"data":{"name":"k"},"mark":{"type":"bar","size":3},
"encoding":{"x":{"field":"i","type":"quantitative","scale":{"domain":[-0.595,179.36],"nice":false,"zero":false},"axis":null},
"y":{"field":"o","type":"quantitative","scale":{"domain":[78464.5,82708],"nice":false,"zero":false}},"y2":{"field":"c"},
"color":{"condition":{"test":"datum.c >= datum.o","value":"#ea4b5a"},"value":"#24a983"}}},
{"data":{"name":"chan"},"mark":{"type":"line","strokeWidth":1.2,"color":"#e8455a","clip":true},
"encoding":{"x":{"field":"i","type":"quantitative","scale":{"domain":[-0.595,179.36],"nice":false,"zero":false},"axis":null},
"y":{"field":"v","type":"quantitative","scale":{"domain":[78464.5,82708],"nice":false,"zero":false}},"detail":{"field":"n"}}},
{"data":{"name":"tags"},"mark":{"type":"point","filled":true,"opacity":1,"size":100,"strokeWidth":0,"clip":true},
"encoding":{"x":{"field":"i","type":"quantitative","scale":{"domain":[-0.595,179.36],"nice":false,"zero":false},"axis":null},
"y":{"field":"v","type":"quantitative","scale":{"domain":[78464.5,82708],"nice":false,"zero":false}},
"shape":{"field":"t","type":"nominal","scale":{"domain":["9","13"],"range":["square","M-1.35,-1H1.35V1H-1.35Z"]},"legend":null},
"fill":{"field":"side","type":"nominal","scale":{"domain":["top","bot"],"range":["#ea4b5a","#24a983"]},"legend":null}}},
{"data":{"name":"tags"},"mark":{"type":"text","color":"white","fontSize":8.5,"fontWeight":"bold","font":"Liberation Sans","baseline":"middle","align":"center","clip":true},
"encoding":{"x":{"field":"i","type":"quantitative","scale":{"domain":[-0.595,179.36],"nice":false,"zero":false},"axis":null},
"y":{"field":"v","type":"quantitative","scale":{"domain":[78464.5,82708],"nice":false,"zero":false}},"text":{"field":"t"}}},
{"data":{"name":"lowlab"},"mark":{"type":"text","color":"#333333","fontSize":9.5,"font":"Liberation Sans","baseline":"middle","align":"right"},
"encoding":{"x":{"field":"i","type":"quantitative","scale":{"domain":[-0.595,179.36],"nice":false,"zero":false},"axis":null},
"y":{"field":"v","type":"quantitative","scale":{"domain":[78464.5,82708],"nice":false,"zero":false}},"text":{"field":"t"}}},
{"data":{"name":"pt"},"mark":{"type":"rect","color":"#24a983"},
"encoding":{"x":{"field":"a","type":"quantitative","scale":{"domain":[-0.595,179.36],"nice":false,"zero":false},"axis":null},"x2":{"field":"b"},
"y":{"field":"y1","type":"quantitative","scale":{"domain":[78464.5,82708],"nice":false,"zero":false}},"y2":{"field":"y2"}}},
{"data":{"name":"pt"},"mark":{"type":"text","color":"white","fontSize":10,"fontWeight":"bold","font":"Liberation Sans","baseline":"middle","align":"center"},
"encoding":{"x":{"field":"m","type":"quantitative","scale":{"domain":[-0.595,179.36],"nice":false,"zero":false},"axis":null},
"y":{"field":"v","type":"quantitative","scale":{"domain":[78464.5,82708],"nice":false,"zero":false}},"text":{"field":"t"}}}
]},
{"width":817,"height":135,
"layer":[
{"data":{"name":"macd"},"mark":{"type":"bar","size":3,"strokeWidth":0.8,"clip":true},
"encoding":{"x":{"field":"i","type":"quantitative","scale":{"domain":[-0.595,179.36],"nice":false,"zero":false},"axis":null},
"y":{"field":"v","type":"quantitative","scale":{"domain":[-496,658],"nice":false,"zero":false},"axis":{"orient":"right","values":[600,400,200,0,-200,-400],"tickCount":6,"format":".1f","grid":true,"labelOverlap":false,"labelSeparation":0,"labelFontSize":9,"title":null}},
"y2":{"datum":0},
"fill":{"field":"g","type":"nominal","scale":{"domain":["pg","ps","ng","ns"],"range":["#fbe1e4","#ea4b5a","#d2f0e7","#24a983"]},"legend":null},
"stroke":{"field":"g","type":"nominal","scale":{"domain":["pg","ps","ng","ns"],"range":["#ee7380","#ea4b5a","#4fbf9e","#24a983"]},"legend":null}}},
{"data":{"name":"ml"},"mark":{"type":"line","strokeWidth":1,"clip":true},
"encoding":{"x":{"field":"i","type":"quantitative","scale":{"domain":[-0.595,179.36],"nice":false,"zero":false},"axis":null},
"y":{"field":"v","type":"quantitative","scale":{"domain":[-496,658],"nice":false,"zero":false},"axis":{"orient":"right","values":[600,400,200,0,-200,-400],"tickCount":6,"format":".1f","grid":true,"labelOverlap":false,"labelSeparation":0,"labelFontSize":9,"title":null}},
"color":{"field":"s","type":"nominal","scale":{"domain":["d","e"],"range":["#5ccbc6","#f5b640"]},"legend":null}}}
]},
{"width":817,"height":145,
"layer":[
{"data":{"name":"boll"},"mark":{"type":"area","color":"#f6e0f8","opacity":1,"clip":true},
"encoding":{"x":{"field":"i","type":"quantitative","scale":{"domain":[-0.595,179.36],"nice":false,"zero":false},"axis":null},
"y":{"field":"u","type":"quantitative","scale":{"domain":[78414,82955],"nice":false,"zero":false},"axis":{"orient":"right","values":[82000,81000,80000,79000],"format":".1f","grid":true,"labelOverlap":false,"title":null}},
"y2":{"field":"lo"}}},
{"data":{"name":"boll"},"mark":{"type":"line","strokeWidth":1,"color":"#f4a640","clip":true},
"encoding":{"x":{"field":"i","type":"quantitative","scale":{"domain":[-0.595,179.36],"nice":false,"zero":false},"axis":null},
"y":{"field":"u","type":"quantitative","scale":{"domain":[78414,82955],"nice":false,"zero":false}}}},
{"data":{"name":"boll"},"mark":{"type":"line","strokeWidth":1,"color":"#d94fc0","clip":true},
"encoding":{"x":{"field":"i","type":"quantitative","scale":{"domain":[-0.595,179.36],"nice":false,"zero":false},"axis":null},
"y":{"field":"lo","type":"quantitative","scale":{"domain":[78414,82955],"nice":false,"zero":false}}}},
{"data":{"name":"boll"},"mark":{"type":"line","strokeWidth":1,"color":"#6db4d2","clip":true},
"encoding":{"x":{"field":"i","type":"quantitative","scale":{"domain":[-0.595,179.36],"nice":false,"zero":false},"axis":null},
"y":{"field":"m","type":"quantitative","scale":{"domain":[78414,82955],"nice":false,"zero":false}}}},
{"data":{"name":"k"},"mark":{"type":"rule","strokeWidth":1},
"encoding":{"x":{"field":"i","type":"quantitative","scale":{"domain":[-0.595,179.36],"nice":false,"zero":false},"axis":null},
"y":{"field":"h","type":"quantitative","scale":{"domain":[78414,82955],"nice":false,"zero":false}},"y2":{"field":"l"},
"color":{"condition":{"test":"datum.c >= datum.o","value":"#ea4b5a"},"value":"#24a983"}}},
{"data":{"name":"k"},"mark":{"type":"tick","orient":"horizontal","size":2,"thickness":1,"xOffset":-1},
"encoding":{"x":{"field":"i","type":"quantitative","scale":{"domain":[-0.595,179.36],"nice":false,"zero":false},"axis":null},
"y":{"field":"o","type":"quantitative","scale":{"domain":[78414,82955],"nice":false,"zero":false}},
"color":{"condition":{"test":"datum.c >= datum.o","value":"#ea4b5a"},"value":"#24a983"}}},
{"data":{"name":"k"},"mark":{"type":"tick","orient":"horizontal","size":2,"thickness":1,"xOffset":1},
"encoding":{"x":{"field":"i","type":"quantitative","scale":{"domain":[-0.595,179.36],"nice":false,"zero":false},"axis":null},
"y":{"field":"c","type":"quantitative","scale":{"domain":[78414,82955],"nice":false,"zero":false}},
"color":{"condition":{"test":"datum.c >= datum.o","value":"#ea4b5a"},"value":"#24a983"}}},
{"data":{"name":"cap"},"mark":{"type":"text","color":"#e8464f","fontSize":17,"font":"Noto Sans CJK SC","baseline":"middle","align":"center"},
"encoding":{"x":{"field":"i","type":"quantitative","scale":{"domain":[-0.595,179.36],"nice":false,"zero":false},"axis":null},
"y":{"field":"v","type":"quantitative","scale":{"domain":[78414,82955],"nice":false,"zero":false}},"text":{"field":"t"}}}
]}
]
}
